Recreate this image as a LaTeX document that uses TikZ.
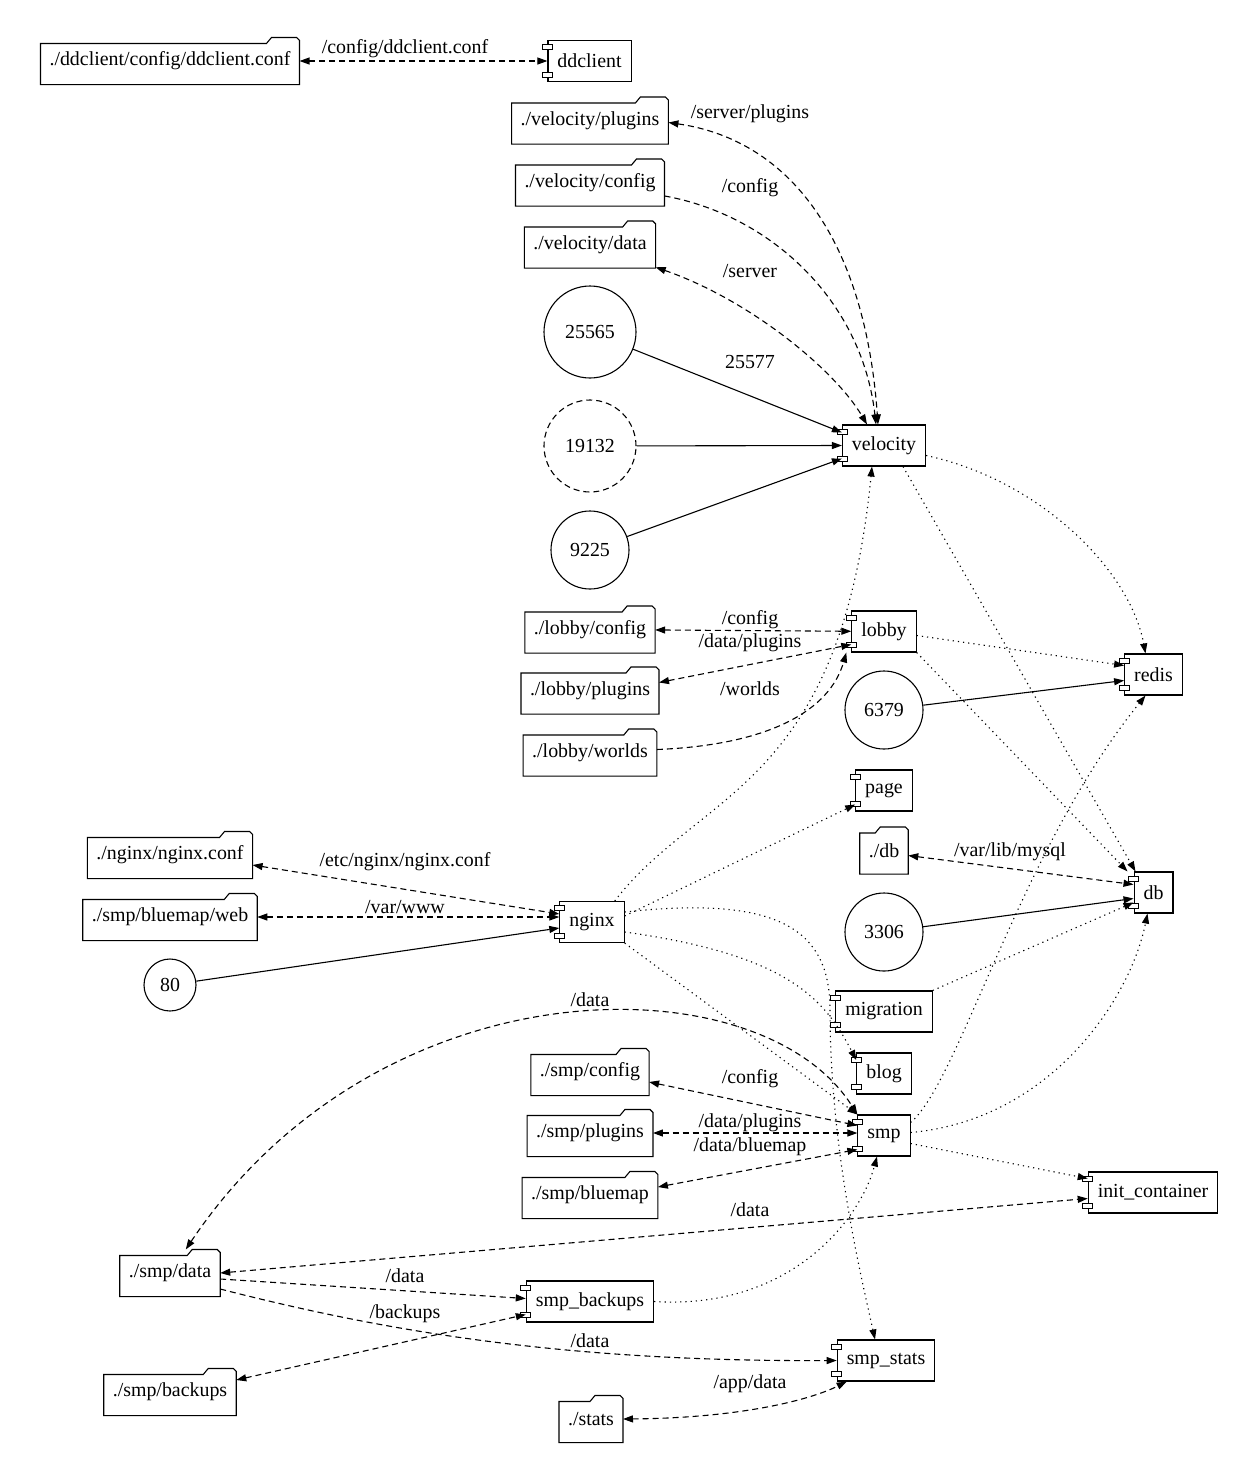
\documentclass[tikz,border=0pt]{standalone}
\usepackage{fontspec}
\setmainfont{Liberation Serif}
\usetikzlibrary{arrows.meta}

\begin{document}
\begin{tikzpicture}[x=1pt,y=-1pt,>={Triangle[length=10pt,width=7pt]},
  line width=1.1pt,font=\fontsize{19.9}{23}\selectfont,
  comp/.style={draw,rectangle,minimum height=41pt,inner xsep=9.5pt},
  folder/.style={rectangle,minimum height=46pt,inner xsep=8.5pt},
  port/.style={draw,circle,inner sep=0pt},
  vol/.style={dash pattern=on 6pt off 4pt},
  dep/.style={dash pattern=on 1.2pt off 4pt},
  lbl/.style={inner sep=0pt}]
  \useasboundingbox (0,0) rectangle (1260,1484);

  % volumes
  \node[folder] (ddconf) at (170,61) {./ddclient/config/ddclient.conf};
  \node[folder] (vplugins) at (590,120.5) {./velocity/plugins};
  \node[folder] (vconfig) at (590,182.5) {./velocity/config};
  \node[folder] (vdata) at (590,244.5) {./velocity/data};
  \node[folder] (lconfig) at (590,629.5) {./lobby/config};
  \node[folder] (lplugins) at (590,690.5) {./lobby/plugins};
  \node[folder] (lworlds) at (590,752.5) {./lobby/worlds};
  \node[folder] (nginxconf) at (170,855) {./nginx/nginx.conf};
  \node[folder] (bmweb) at (170,917) {./smp/bluemap/web};
  \node[folder] (dbdir) at (884,850.5) {./db};
  \node[folder] (sconfig) at (590,1072) {./smp/config};
  \node[folder] (splugins) at (590,1133) {./smp/plugins};
  \node[folder] (sbluemap) at (590,1195) {./smp/bluemap};
  \node[folder] (sdata) at (170,1273) {./smp/data};
  \node[folder] (backups) at (170,1392) {./smp/backups};
  \node[folder] (statsdir) at (591,1419) {./stats};

  % ports
  \node[port,minimum size=92pt] (p25565) at (590,332) {25565};
  \node[port,minimum size=92pt,dash pattern=on 6pt off 4pt] (p19132) at (590,446) {19132};
  \node[port,minimum size=78pt] (p9225) at (590,550) {9225};
  \node[port,minimum size=78pt] (p6379) at (884,710) {6379};
  \node[port,minimum size=78pt] (p3306) at (884,932) {3306};
  \node[port,minimum size=52pt] (p80) at (170,985) {80};

  % services
  \node[comp] (ddclient) at (589.5,61) {ddclient};
  \node[comp] (velocity) at (884,445.5) {velocity};
  \node[comp] (lobby) at (884,631.5) {lobby};
  \node[comp] (redis) at (1153.5,674.5) {redis};
  \node[comp] (page) at (884,790.5) {page};
  \node[comp] (db) at (1153.5,892.5) {db};
  \node[comp] (nginx) at (592,922) {nginx};
  \node[comp] (migration) at (884,1011.5) {migration};
  \node[comp] (blog) at (884,1073.5) {blog};
  \node[comp] (smp) at (884,1135.5) {smp};
  \node[comp] (init) at (1153,1192.5) {init\_container};
  \node[comp] (sbackups) at (590,1301.5) {smp\_backups};
  \node[comp] (sstats) at (886,1360.5) {smp\_stats};

  \foreach \f in {ddconf,vplugins,vconfig,vdata,lconfig,lplugins,lworlds,nginxconf,
      bmweb,dbdir,sconfig,splugins,sbluemap,sdata,backups,statsdir}
    \draw ([yshift=-6pt]\f.north west) -- ([xshift=-33pt,yshift=-6pt]\f.north east)
      -- ([xshift=-28pt]\f.north east) -- ([xshift=-3pt]\f.north east)
      -- ([yshift=-3pt]\f.north east) -- (\f.south east) -- (\f.south west) -- cycle;
  \foreach \c in {ddclient,velocity,lobby,redis,page,db,nginx,migration,blog,smp,
      init,sbackups,sstats}
    \foreach \s in {13.8pt,-13.8pt}
      \draw[line width=0.8pt,fill=white] ([yshift=\s]\c.west) +(-5pt,-2.5pt) rectangle +(5pt,2.5pt);

  % mounts
  \draw[vol,<->] (ddconf) -- (ddclient) node[lbl] at (405,49) {/config/ddclient.conf};
  \draw[vol,<->] ([yshift=-2pt]vplugins.east) .. controls (790,140) and (865,240)
    .. ([xshift=-6pt]velocity.north) node[lbl] at (750,114) {/server/plugins};
  \draw[vol,->] (vconfig) .. controls (770,215) and (862,300)
    .. ([xshift=-8pt]velocity.north) node[lbl] at (750,188) {/config};
  \draw[vol,<->] (vdata) .. controls (750,300) and (835,370)
    .. ([xshift=-17pt]velocity.north) node[lbl] at (750,271) {/server};
  \draw[vol,<->] (lconfig) -- (lobby) node[lbl] at (750,620) {/config};
  \draw[vol,<->] ([yshift=8pt]lplugins.east) -- ([yshift=-13pt]lobby.west)
    node[lbl] at (750,643) {/data/plugins};
  \draw[vol,->] ([yshift=3pt]lworlds.east) .. controls (770,745) and (830,710)
    .. ([xshift=-5pt]lobby.south west) node[lbl] at (750,689) {/worlds};
  \draw[vol,<->] ([yshift=-5pt]dbdir.east) -- ([yshift=8pt]db.west)
    node[lbl] at (1010,852) {/var/lib/mysql};
  \draw[vol,<->] ([yshift=-10pt]nginxconf.east) -- ([yshift=8pt]nginx.west)
    node[lbl] at (405,862) {/etc/nginx/nginx.conf};
  \draw[vol,<->] (bmweb.east) -- (bmweb.east -| nginx.west)
    node[lbl] at (405,907) {/var/www};
  \draw[vol,<->] ([yshift=-10pt]sconfig.east) -- ([yshift=10pt]smp.west)
    node[lbl] at (750,1079) {/config};
  \draw[vol,<->] (splugins) -- (splugins -| smp.west)
    node[lbl] at (750,1123) {/data/plugins};
  \draw[vol,<->] ([yshift=8pt]sbluemap.east) -- ([yshift=-14pt]smp.west)
    node[lbl] at (750,1147) {/data/bluemap};
  \draw[vol,<->] (sdata) .. controls (380,960) and (760,960)
    .. (smp.north west) node[lbl] at (590,1000) {/data};
  \draw[vol,<->] (sdata.east) -- ([yshift=-6pt]init.west)
    node[lbl] at (750,1210) {/data};
  \draw[vol,->] ([yshift=-6pt]sdata.east) -- ([yshift=3pt]sbackups.west)
    node[lbl] at (405,1276) {/data};
  \draw[vol,->] ([yshift=-16pt]sdata.east) .. controls (380,1330) and (560,1362)
    .. (sstats.west) node[lbl] at (590,1341) {/data};
  \draw[vol,<->] ([yshift=12pt]backups.east) -- ([yshift=-13pt]sbackups.west)
    node[lbl] at (405,1314) {/backups};
  \draw[vol,<->] (statsdir.east) .. controls (740,1418) and (810,1400)
    .. ([xshift=10pt]sstats.south west) node[lbl] at (750,1384) {/app/data};

  % ports
  \draw[->] (p25565) -- ([yshift=13pt]velocity.west) node[lbl] at (750,362) {25577};
  \draw[->] (p19132) -- (velocity.west);
  \draw[->] (p9225) -- ([yshift=-13pt]velocity.west);
  \draw[->] (p6379) -- ([yshift=-6pt]redis.west);
  \draw[->] (p3306) -- ([yshift=-6pt]db.west);
  \draw[->] (p80) -- ([yshift=-6pt]nginx.west);

  % depends_on
  \draw[dep,->] ([yshift=-10pt]velocity.east) .. controls (1040,480) and (1130,570)
    .. ([xshift=-8pt]redis.north);
  \draw[dep,->] ([xshift=19pt]velocity.south) -- ([xshift=-18pt]db.north);
  \draw[dep,->] ([yshift=-4pt]lobby.east) -- ([yshift=9pt]redis.west);
  \draw[dep,->] (lobby.south east) -- ([xshift=-26pt]db.north);
  \draw[dep,->] ([xshift=-10pt]nginx.north east) .. controls (700,790) and (840,790)
    .. ([xshift=-12pt]velocity.south);
  \draw[dep,->] ([yshift=6pt]nginx.east) -- ([yshift=-14pt]page.west);
  \draw[dep,->] ([yshift=10pt]nginx.east) .. controls (780,895) and (830,930) .. (830,1010)
    .. controls (830,1150) and (862,1280) .. ([xshift=-11pt]sstats.north);
  \draw[dep,->] ([yshift=-10pt]nginx.east) .. controls (790,955) and (825,1000)
    .. ([yshift=13.5pt]blog.west);
  \draw[dep,->] (nginx.south east) -- (smp.north west);
  \draw[dep,->] (migration.north east) -- ([yshift=-10pt]db.west);
  \draw[dep,->] ([yshift=13pt]smp.east) .. controls (960,1080) and (1020,850)
    .. ([xshift=-8pt]redis.south);
  \draw[dep,->] ([yshift=3pt]smp.east) .. controls (1050,1120) and (1130,1000)
    .. ([xshift=-6pt]db.south);
  \draw[dep,->] ([yshift=-8pt]smp.east) -- ([yshift=14pt]init.west);
  \draw[dep,->] (sbackups.east) .. controls (790,1310) and (860,1220)
    .. ([xshift=-7pt]smp.south);
\end{tikzpicture}
\end{document}
